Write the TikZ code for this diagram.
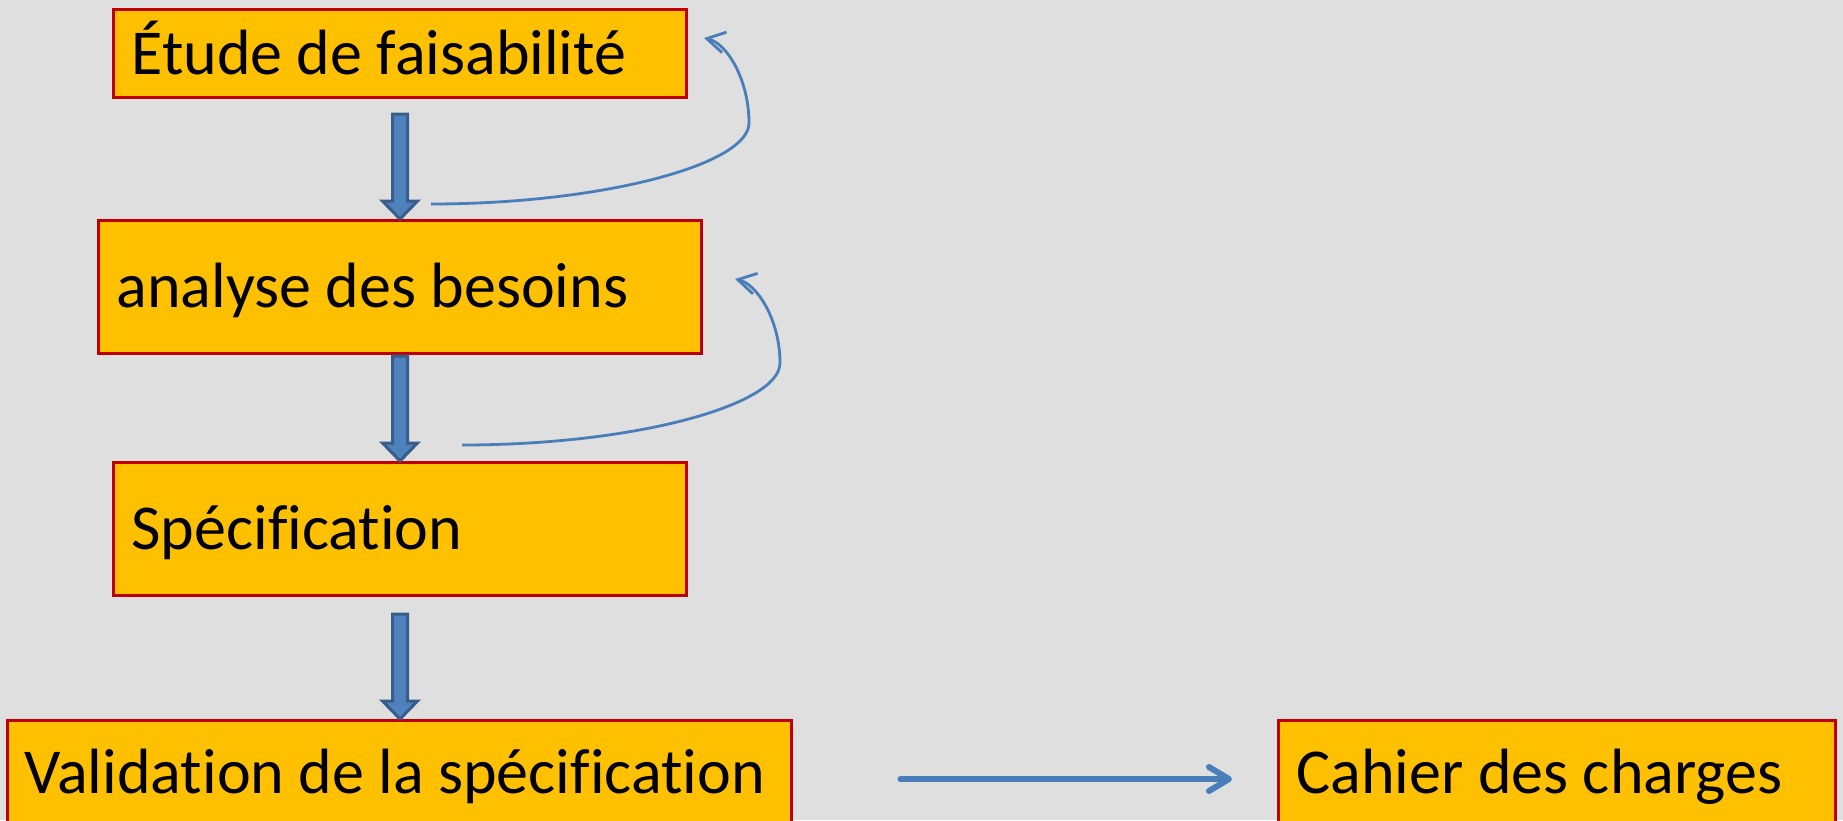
\documentclass[tikz,border=0pt]{standalone}
\usepackage{fontspec}
\setmainfont{Carlito}[RawFeature=-liga]
\usetikzlibrary{arrows.meta,calc}
\definecolor{bggray}{RGB}{223,223,223}
\definecolor{stageyellow}{RGB}{255,192,0}
\definecolor{stagered}{RGB}{192,0,0}
\definecolor{arrowfill}{RGB}{79,129,189}
\definecolor{arrowdark}{RGB}{56,93,138}
\definecolor{flowblue}{RGB}{74,126,187}
\begin{document}
\begin{tikzpicture}[x=0.5pt,y=-0.5pt]
  \tikzstyle{every node}=[font=\fontsize{32}{38}\selectfont]
  \tikzstyle{stage}=[draw=stagered,fill=stageyellow,line width=1.5pt,align=left,inner xsep=9pt,text height=20.6pt,text depth=0pt,
    execute at begin node={\spaceskip=7.2pt\xspaceskip=7.2pt\hyphenpenalty=10000\relax}]
  \tikzstyle{blockarrow}=[draw=arrowdark,fill=arrowfill,line width=1.5pt,
    to path={let \p1=(\tikztostart), \p2=(\tikztotarget) in
      (\x1-3.75pt,\y1) -- (\x1+3.75pt,\y1) -- (\x1+3.75pt,\y2+9pt) -- (\x1+8.75pt,\y2+9pt)
      -- (\x1,\y2) -- (\x1-8.75pt,\y2+9pt) -- (\x1-3.75pt,\y2+9pt) -- cycle}]
  \tikzstyle{feedback}=[draw=flowblue,line width=1.4pt,-{Straight Barb[length=9pt,width=10.5pt]}]
  \tikzstyle{flow}=[draw=flowblue,line width=3pt,line cap=round,-{Straight Barb[round,length=10pt,width=12pt]}]

 \useasboundingbox (0,0) rectangle (1843,820);
 \fill[bggray] (0,0) rectangle (1843,820);

 \node[stage,text width=268.5pt,minimum height=44pt] (etude) at (400,53.5) {Étude de faisabilité};
 \node[stage,text width=283.5pt,minimum height=66.5pt] (analyse) at (400,287) {analyse des besoins};
 \node[stage,text width=268.5pt,minimum height=66.5pt] (spec) at (400,529) {Spécification};
 \node[stage,text width=375pt,inner xsep=8.5pt,minimum height=52pt] (validation) at (399.5,772.5) {Validation de la spécification};
 \node[stage,text width=260.5pt,minimum height=52pt] (cahier) at (1557,772.5) {Cahier des charges};

 \coordinate (fb1s) at (431,204);
 \coordinate (fb1m) at (749,123);
 \coordinate (fb1e) at (704,38);
 \coordinate (fb2s) at (462,445);
 \coordinate (fb2m) at (780,363);
 \coordinate (fb2e) at (735,279);

 \draw [blockarrow] ([yshift=-7.5pt]etude.south) to (analyse.north);
 \draw [blockarrow] ([yshift=-0.5pt]analyse.south) to (spec.north);
 \draw [blockarrow] ([yshift=-8.5pt]spec.south) to (validation.north);

 \draw [feedback] (fb1s) .. controls (600,204) and (749,165) .. (fb1m) .. controls (749,80) and (727,43) .. (fb1e);
 \draw [feedback] (fb2s) .. controls (635,445) and (780,405) .. (fb2m) .. controls (780,320) and (757,284) .. (fb2e);

 \draw [flow] ([xshift=53.75pt,yshift=-3.25pt]validation.east) -- ([xshift=-22.5pt,yshift=-3.25pt]cahier.west);

\end{tikzpicture}
\end{document}
